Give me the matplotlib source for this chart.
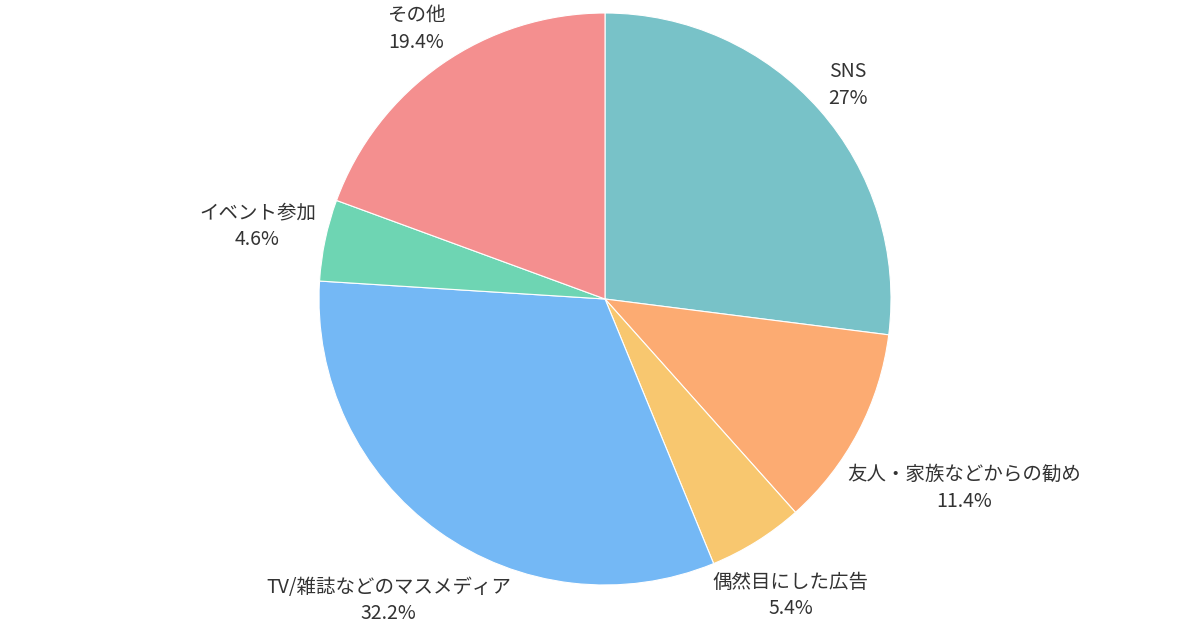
import matplotlib
matplotlib.use("Agg")
import matplotlib.pyplot as plt
import numpy as np

categories = ["SNS", "友人・家族などからの勧め", "偶然目にした広告",
              "TV/雑誌などのマスメディア", "イベント参加", "その他"]
values = [27.0, 11.4, 5.4, 32.2, 4.6, 19.4]
value_labels = ["27%", "11.4%", "5.4%", "32.2%", "4.6%", "19.4%"]
colors = ["#78C2C8", "#FCAB72", "#F8C76F", "#74B8F5", "#6ED5B3", "#F48F8F"]

plt.rcParams['font.family'] = ['Noto Sans CJK JP', 'DejaVu Sans']

W, H, DPI = 1200, 630, 100
fig = plt.figure(figsize=(W / DPI, H / DPI), dpi=DPI)
ax = fig.add_axes([0, 0, 1, 1])

cx_px, cy_px, r_px = 605, 299, 286

wedges, _ = ax.pie(values, colors=colors, startangle=90, counterclock=False,
                   radius=1.0, center=(0, 0), frame=True,
                   wedgeprops=dict(edgecolor='white', linewidth=0.8))
ax.set_xlim(-cx_px / r_px, (W - cx_px) / r_px)
ax.set_ylim(-(H - cy_px) / r_px, cy_px / r_px)
ax.set_aspect('auto')
ax.axis('off')

fig.canvas.draw()
renderer = fig.canvas.get_renderer()
R0 = 1.025
for w, cat, vl in zip(wedges, categories, value_labels):
    ang = np.deg2rad((w.theta1 + w.theta2) / 2)
    c, s = np.cos(ang), np.sin(ang)
    t = ax.text(0, 0, f"{cat}\n{vl}", ha='center', va='center',
                fontsize=14, color='#333333', linespacing=1.35)
    bb = t.get_window_extent(renderer)
    hw = bb.width / 2 / r_px
    hh = bb.height / 2 / r_px
    lo, hi = 0.0, 3.0
    for _ in range(60):
        d = (lo + hi) / 2
        px = d * c - hw * np.sign(c)
        py = d * s - hh * np.sign(s)
        if np.sign(px) != np.sign(c):
            px = 0
        if np.sign(py) != np.sign(s):
            py = 0
        if np.hypot(px, py) < R0:
            lo = d
        else:
            hi = d
    t.set_position((d * c, d * s))

fig.savefig("out.png", dpi=DPI, facecolor='white')
